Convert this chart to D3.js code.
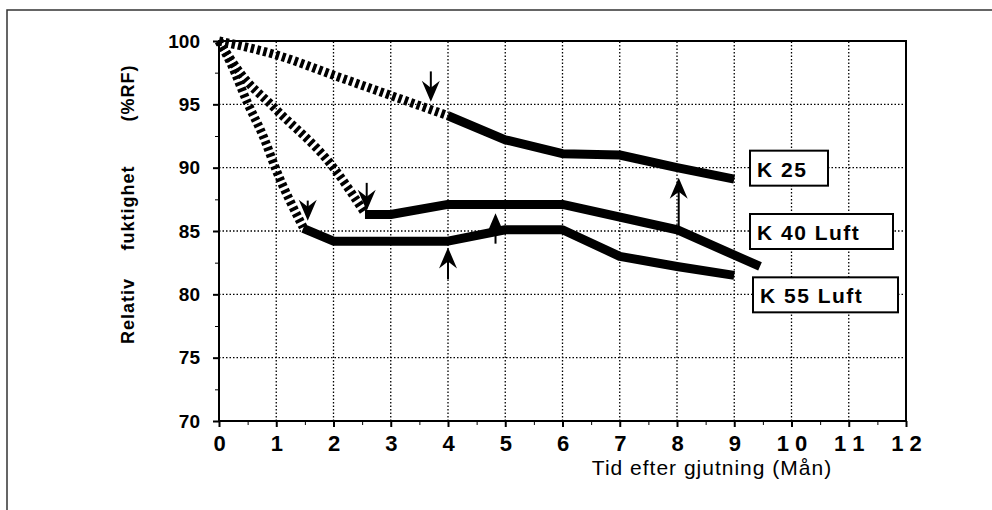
<!DOCTYPE html>
<meta charset="UTF-8">
<style>
body { margin: 0; background: #fff; }
svg { display: block; font-family: "Liberation Sans", Arial, sans-serif; }
.grid line { stroke: #000; stroke-width: 1.3; stroke-dasharray: 1.5,2; }
.ser { fill: none; stroke: #000; stroke-linejoin: round; }
</style>
<body>
<div class="chart"></div>
<script src="https://cdnjs.cloudflare.com/ajax/libs/d3/7.8.5/d3.min.js"></script>
<script>
// months after casting / relative humidity
var k25Dot = [[0, 100], [1, 98.9], [2, 97.3], [3, 95.7], [4, 94.1]];
var k25 = [[4, 94.1], [5, 92.2], [6, 91.1], [7, 91.0], [8, 90.0], [9, 89.1]];
var k40Dot = [[0, 100], [0.4, 97.3], [0.95, 94.8], [2, 90], [2.55, 86.4]];
var k40 = [[2.55, 86.3], [3, 86.3], [4, 87.1], [6, 87.1], [8, 85.1], [9.45, 82.2]];
var k55Dot = [[0, 100], [0.2, 98.3], [0.5, 95.1], [0.78, 92.4], [1, 89.8], [1.47, 85.3]];
var k55 = [[1.47, 85.2], [2, 84.2], [4, 84.2], [5, 85.1], [6, 85.1], [7, 83.0], [8, 82.2], [9, 81.5]];

// arrows: x, start value, tip value
var arrows = [[3.7, 97.6, 95.2], [2.58, 88.8, 86.6], [1.55, 87.4, 85.8],
              [4.0, 81.2, 83.7], [4.83, 84.0, 86.4], [8.03, 85.3, 89.2]];

var labels = ["K 25", "K 40 Luft", "K 55 Luft"];
var labelY = [90, 85, 80];

var xTicks = d3.range(0, 13);
var yTicks = d3.range(70, 101, 5);

var width = 992, height = 510;
var svg = d3.select(".chart").append("svg").attr("width", width).attr("height", height);

// outer frame
svg.append("path").attr("d", "M7,510 V10 H992").attr("fill", "none")
  .attr("stroke", "#333").attr("stroke-width", 1.5);

var x = d3.scaleLinear().domain([0, 12]).range([219, 906]);
var y = d3.scaleLinear().domain([70, 100]).range([421, 41]);

var grid = svg.append("g").attr("class", "grid");
grid.selectAll(".v").data(xTicks.slice(1, 12)).enter().append("line")
  .attr("x1", d => x(d)).attr("x2", d => x(d)).attr("y1", y(70)).attr("y2", y(100));
grid.selectAll(".h").data(yTicks.slice(1, 6)).enter().append("line")
  .attr("y1", d => y(d)).attr("y2", d => y(d)).attr("x1", x(0)).attr("x2", x(12));

// frame of plot
svg.append("rect").attr("x", x(0)).attr("y", y(100)).attr("width", x(12) - x(0))
  .attr("height", y(70) - y(100)).attr("fill", "none").attr("stroke", "#000").attr("stroke-width", 2);

// axes
var xAxis = svg.append("g").attr("transform", "translate(0," + y(70) + ")")
  .call(d3.axisBottom(x).tickValues(xTicks).tickSize(6).tickPadding(8)
    .tickFormat(d => d >= 10 ? String(d).split("").join(" ") : d));
xAxis.select(".domain").remove();
xAxis.selectAll("line").attr("stroke-width", 2);
xAxis.selectAll("text").style("font-size", "22px").style("font-weight", "bold").attr("fill", "#000");
svg.append("g").attr("transform", "translate(0," + y(70) + ")")
  .call(d3.axisBottom(x).tickValues(d3.range(0.5, 12, 1)).tickSize(4).tickFormat(""))
  .call(g => g.select(".domain").remove());

var yAxis = svg.append("g").attr("transform", "translate(" + x(0) + ",0)")
  .call(d3.axisLeft(y).tickValues(yTicks).tickSize(6).tickPadding(13));
yAxis.select(".domain").remove();
yAxis.selectAll("line").attr("stroke-width", 2);
yAxis.selectAll("text").style("font-size", "19px").style("font-weight", "bold").attr("fill", "#000");
svg.append("g").attr("transform", "translate(" + x(0) + ",0)")
  .call(d3.axisLeft(y).tickValues(d3.range(72.5, 100, 5)).tickSize(4).tickFormat(""))
  .call(g => g.select(".domain").remove());

// axis titles
[["Relativ", 311], ["fuktighet", 208], ["(%RF)", 93]].forEach(function (w) {
  svg.append("text").attr("transform", "translate(134," + w[1] + ") rotate(-90)")
    .attr("text-anchor", "middle").style("font-size", "18px").style("font-weight", "bold")
    .style("letter-spacing", "1px").text(w[0]);
});
svg.append("text").attr("x", 712).attr("y", 475).attr("text-anchor", "middle")
  .style("font-size", "21px").style("letter-spacing", "1px").text("Tid efter gjutning (Mån)");

// series
var lineDot = d3.line().x(d => x(d[0])).y(d => y(d[1])).curve(d3.curveMonotoneX);
var lineSolid = d3.line().x(d => x(d[0])).y(d => y(d[1]));

[k25Dot, k40Dot, k55Dot].forEach(function (s) {
  svg.append("path").attr("class", "ser").attr("d", lineDot(s))
    .attr("stroke-width", 9).attr("stroke-dasharray", "3.5,3");
});
[k25, k40, k55].forEach(function (s) {
  svg.append("path").attr("class", "ser").attr("d", lineSolid(s)).attr("stroke-width", 9);
});

// arrows
arrows.forEach(function (a) {
  var px = x(a[0]), y0 = y(a[1]), y1 = y(a[2]);
  var dir = y1 > y0 ? 1 : -1;
  svg.append("line").attr("x1", px).attr("x2", px).attr("y1", y0).attr("y2", y1 - dir * 4)
    .attr("stroke", "#000").attr("stroke-width", 2);
  var hb = y1 - dir * 21, hn = y1 - dir * 14;
  svg.append("path").attr("d", "M" + px + "," + y1 + " L" + (px - 9) + "," + hb + " L" + px + "," + hn +
    " L" + (px + 9) + "," + hb + " Z").attr("fill", "#000");
});

// labels
var lab = svg.selectAll(".lab").data(labels).enter().append("g")
  .attr("transform", (d, i) => "translate(" + (i == 2 ? 753 : 750) + "," + (y(labelY[i]) - 17) + ")");
lab.append("rect").attr("width", (d, i) => [78, 143, 145][i]).attr("height", 35)
  .attr("fill", "#fff").attr("stroke", "#000").attr("stroke-width", 2);
lab.append("text").attr("x", 7).attr("y", 26).style("font-size", "21px").style("font-weight", "bold")
  .style("letter-spacing", "1.5px").text(d => d);
</script>
</body>
